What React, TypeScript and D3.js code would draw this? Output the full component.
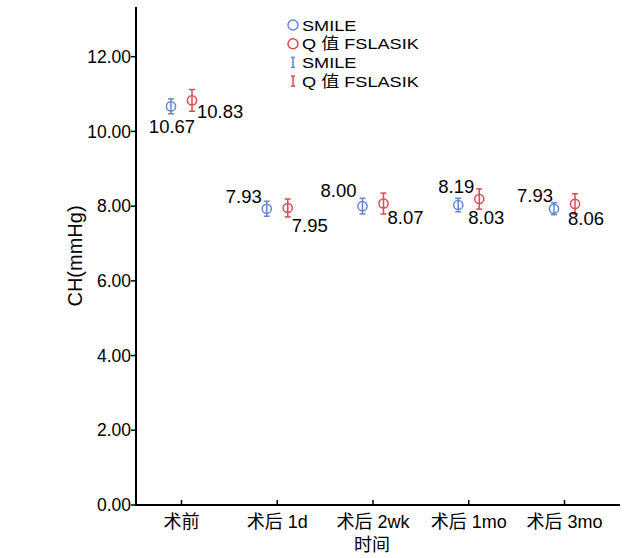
import React from "react";
import * as d3 from "d3";

const categories = ["术前", "术后 1d", "术后 2wk", "术后 1mo", "术后 3mo"];
const smileMean = [10.67, 7.93, 8.0, 8.03, 7.93];
const smileErr = [0.2, 0.2, 0.21, 0.18, 0.16];
const qMean = [10.83, 7.95, 8.07, 8.19, 8.06];
const qErr = [0.29, 0.24, 0.28, 0.27, 0.27];
const smileLabels = ["10.67", "7.93", "8.00", "8.19", "7.93"];
const qLabels = ["10.83", "7.95", "8.07", "8.03", "8.06"];
const yTicks = [0, 2, 4, 6, 8, 10, 12];
const legendItems = ["SMILE", "Q 值 FSLASIK"];

// layout of the value labels relative to their points
const smileLabelLayout = [
  { dx: 1, dy: 27, anchor: "middle" },
  { dx: -5, dy: -5.5, anchor: "end" },
  { dx: -6, dy: -9, anchor: "end" },
  { dx: 16, dy: -12.5, anchor: "end" },
  { dx: -1, dy: -6.5, anchor: "end" },
];
const qLabelLayout = [
  { dx: 5, dy: 18, anchor: "start" },
  { dx: 4, dy: 24.5, anchor: "start" },
  { dx: 4, dy: 20, anchor: "start" },
  { dx: -11, dy: 24.5, anchor: "start" },
  { dx: -7, dy: 21.5, anchor: "start" },
];

const W = 627;
const H = 558;
const BLUE = "#6189d3";
const RED = "#de4a50";
const FONT = "'Liberation Sans', Arial, 'Noto Sans CJK SC', sans-serif";

export default function App() {
  const x0 = 136;
  const x1 = 620;
  const y = d3.scaleLinear().domain([0, 13.33]).range([505, 7]);
  const x = d3.scalePoint<string>().domain(categories).range([181.5, 564.5]);
  const off = 10.5;
  const r = 4.6;
  const cap = 3;

  const series = [
    { mean: smileMean, err: smileErr, color: BLUE, dx: -off, labels: smileLabels, layout: smileLabelLayout },
    { mean: qMean, err: qErr, color: RED, dx: off, labels: qLabels, layout: qLabelLayout },
  ];

  const legendRow = (k: number) => 25 + k * 18.7;

  return (
    <svg
      width={W}
      height={H}
      style={{ position: "absolute", left: 0, top: 0, background: "#fff" }}
      fontFamily={FONT}
    >
      {/* axes */}
      <line x1={x0} x2={x0} y1={y(13.33)} y2={y(0) + 1} stroke="#000" strokeWidth={2} />
      <line x1={x0 - 1} x2={x1} y1={y(0)} y2={y(0)} stroke="#000" strokeWidth={2} />
      {yTicks.map((t) => (
        <g key={t}>
          <line x1={x0 - 5} x2={x0} y1={y(t)} y2={y(t)} stroke="#000" strokeWidth={1.5} />
          <text x={x0 - 5} y={y(t)} dy="0.35em" textAnchor="end" fontSize={17.5}>
            {t.toFixed(2)}
          </text>
        </g>
      ))}
      {categories.map((c) => (
        <g key={c}>
          <line x1={x(c)} x2={x(c)} y1={y(0)} y2={y(0) - 5} stroke="#000" strokeWidth={1.5} />
          <text x={x(c)} y={y(0) + 23} textAnchor="middle" fontSize={18}>
            {c}
          </text>
        </g>
      ))}
      <text x={372} y={551} textAnchor="middle" fontSize={18}>
        时间
      </text>
      <text
        transform={`translate(82,256) rotate(-90)`}
        textAnchor="middle"
        fontSize={20}
      >
        CH(mmHg)
      </text>

      {/* data */}
      {series.map((s, si) =>
        categories.map((c, i) => {
          const cx = (x(c) as number) + s.dx;
          const cy = y(s.mean[i]);
          const yt = y(s.mean[i] + s.err[i]);
          const yb = y(s.mean[i] - s.err[i]);
          const L = s.layout[i];
          return (
            <g key={`${si}-${i}`}>
              <line x1={cx} x2={cx} y1={yt} y2={yb} stroke={s.color} strokeWidth={1.5} />
              <line x1={cx - cap} x2={cx + cap} y1={yt} y2={yt} stroke={s.color} strokeWidth={1.5} />
              <line x1={cx - cap} x2={cx + cap} y1={yb} y2={yb} stroke={s.color} strokeWidth={1.5} />
              <circle cx={cx} cy={cy} r={r} fill="none" stroke={s.color} strokeWidth={1.5} />
              <text x={cx + L.dx} y={cy + L.dy} textAnchor={L.anchor as any} fontSize={18.5}>
                {s.labels[i]}
              </text>
            </g>
          );
        })
      )}

      {/* legend */}
      {legendItems.map((name, i) => {
        const col = i === 0 ? BLUE : RED;
        const ly = legendRow(i);
        return (
          <g key={`c${i}`}>
            <circle cx={293} cy={ly} r={5} fill="none" stroke={col} strokeWidth={1.5} />
            <text transform={`translate(302,${ly}) scale(1.17,1)`} dy="0.36em" fontSize={15.5}>
              {name}
            </text>
          </g>
        );
      })}
      {legendItems.map((name, i) => {
        const col = i === 0 ? BLUE : RED;
        const ly = legendRow(i + 2);
        return (
          <g key={`e${i}`}>
            <line x1={293} x2={293} y1={ly - 5} y2={ly + 5} stroke={col} strokeWidth={1.5} />
            <line x1={291} x2={295} y1={ly - 5} y2={ly - 5} stroke={col} strokeWidth={1.5} />
            <line x1={291} x2={295} y1={ly + 5} y2={ly + 5} stroke={col} strokeWidth={1.5} />
            <text transform={`translate(302,${ly}) scale(1.17,1)`} dy="0.36em" fontSize={15.5}>
              {name}
            </text>
          </g>
        );
      })}
    </svg>
  );
}
